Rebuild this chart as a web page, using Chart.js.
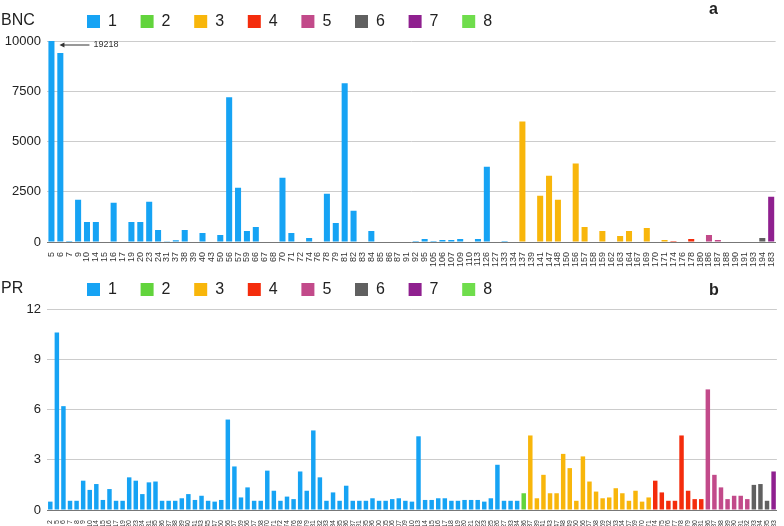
<!DOCTYPE html>
<html>
<head>
<meta charset="utf-8">
<script src="https://cdn.jsdelivr.net/npm/chart.js@4.4.1/dist/chart.umd.min.js"></script>
<style>
  html, body { margin: 0; padding: 0; background: #fff; }
  #wrap { position: relative; width: 784px; height: 526px; }
  .panel { position: absolute; left: 0; width: 784px; }
</style>
</head>
<body>
<div id="wrap">
  <div class="panel" style="top:0;height:268px"><canvas id="bnc"></canvas></div>
  <div class="panel" style="top:268px;height:258px"><canvas id="pr"></canvas></div>
</div>
<script>
// panel a: BNC per category
const bncLabels = [5, 6, 7, 9, 10, 14, 15, 16, 17, 19, 20, 23, 24, 31, 37, 38, 39, 40, 43, 50,
  56, 57, 59, 66, 67, 68, 70, 71, 72, 74, 76, 78, 79, 81, 82, 83, 84, 85, 86, 87,
  91, 92, 95, 105, 106, 107, 109, 110, 113, 126, 127, 133, 134, 137, 139, 141, 147, 148, 150, 156,
  157, 158, 159, 162, 163, 164, 167, 169, 170, 171, 174, 176, 178, 180, 186, 187, 188, 190, 191, 193,
  194, 183];
const bncValues = [19218, 9400, 50, 2100, 1000, 1000, 0, 1950, 0, 1000, 1000, 2000, 600, 40, 90, 600, 0, 450, 0, 350,
  7200, 2700, 550, 750, 0, 0, 3200, 450, 0, 200, 0, 2400, 950, 7900, 1550, 0, 550, 0, 0, 0,
  0, 50, 150, 50, 100, 100, 150, 0, 150, 3750, 0, 50, 0, 6000, 0, 2300, 3300, 2100, 0, 3900,
  750, 0, 550, 0, 300, 550, 0, 700, 0, 100, 50, 0, 150, 0, 350, 100, 0, 0, 0, 0,
  200, 2250];
const bncTicks = [0, 2500, 5000, 7500, 10000];

// panel b: PR per category
const prLabels = [2, 5, 6, 7, 8, 9, 10, 14, 15, 16, 17, 19, 20, 23, 24, 31, 35, 36, 37, 38,
  39, 40, 41, 43, 45, 47, 50, 56, 57, 59, 66, 67, 68, 70, 71, 72, 74, 76, 78, 79,
  81, 82, 83, 84, 85, 86, 87, 91, 95, 96, 100, 105, 106, 107, 109, 110, 113, 114, 115, 116,
  117, 118, 119, 120, 121, 122, 123, 125, 126, 127, 133, 134, 136, 137, 139, 141, 143, 147, 148, 149,
  150, 156, 157, 158, 159, 162, 163, 164, 167, 169, 170, 171, 174, 175, 176, 177, 178, 179, 180, 181,
  186, 187, 188, 189, 190, 191, 192, 193, 194, 195, 183];
const prValues = [0.5, 10.6, 6.2, 0.55, 0.55, 1.75, 1.2, 1.55, 0.6, 1.25, 0.55, 0.55, 1.95, 1.75, 0.95, 1.65, 1.7, 0.55, 0.55, 0.55,
  0.7, 0.95, 0.6, 0.85, 0.55, 0.5, 0.6, 5.4, 2.6, 0.75, 1.35, 0.55, 0.55, 2.35, 1.15, 0.55, 0.8, 0.65, 2.3, 1.15,
  4.75, 1.95, 0.55, 1.05, 0.55, 1.45, 0.55, 0.55, 0.55, 0.7, 0.55, 0.55, 0.65, 0.7, 0.55, 0.5, 4.4, 0.6, 0.6, 0.7,
  0.7, 0.55, 0.55, 0.6, 0.6, 0.6, 0.5, 0.7, 2.7, 0.55, 0.55, 0.55, 1.0, 4.45, 0.7, 2.1, 1.0, 1.0, 3.35, 2.5,
  0.55, 3.2, 1.7, 1.1, 0.7, 0.75, 1.3, 1.0, 0.55, 1.15, 0.5, 0.75, 1.75, 1.05, 0.55, 0.55, 4.45, 1.15, 0.65, 0.65,
  7.2, 2.1, 1.35, 0.65, 0.85, 0.85, 0.65, 1.5, 1.55, 0.55, 2.3];
const prTicks = [0, 3, 6, 9, 12];

const groupNames = ['1', '2', '3', '4', '5', '6', '7', '8'];
const groupColors = ['#16a3f4', '#62d43c', '#f8b60b', '#f42c0c', '#c24a8a', '#606060', '#8f208f', '#6fdd4c'];

// which group a category belongs to
function groupOf(label) {
  if (label === 136) return 1;
  if (label <= 134) return 0;
  if (label <= 171) return 2;
  if (label <= 181) return 3;
  if (label === 183) return 6;
  if (label <= 192) return 4;
  return 5;
}

Chart.defaults.font.family = '"Liberation Sans", Arial, Helvetica, sans-serif';
Chart.defaults.color = '#222';

// legend row, panel title and panel letter
const panelDecor = {
  id: 'panelDecor',
  afterDraw(chart, args, opts) {
    const ctx = chart.ctx;
    ctx.save();
    ctx.textBaseline = 'middle';
    ctx.fillStyle = '#222';
    ctx.font = '16px "Liberation Sans", Arial, sans-serif';
    ctx.textAlign = 'left';
    ctx.fillText(opts.title, 1, 21);
    chart.data.datasets.forEach((ds, i) => {
      const x = 87 + i * 53.6;
      ctx.fillStyle = ds.backgroundColor;
      ctx.fillRect(x, 15, 13, 13);
      ctx.fillStyle = '#222';
      ctx.fillText(ds.label, x + 21, 22);
    });
    ctx.font = 'bold 16px "Liberation Sans", Arial, sans-serif';
    ctx.fillText(opts.letter, 709, opts.letterY);
    if (opts.note) {
      const xs = chart.scales.x, ys = chart.scales.y;
      const x0 = xs.getPixelForValue(0) + 8;
      const y0 = ys.getPixelForValue(ys.max) + 4;
      ctx.strokeStyle = '#333';
      ctx.fillStyle = '#333';
      ctx.lineWidth = 1;
      ctx.beginPath();
      ctx.moveTo(x0 + 3, y0);
      ctx.lineTo(x0 + 30, y0);
      ctx.stroke();
      ctx.beginPath();
      ctx.moveTo(x0, y0);
      ctx.lineTo(x0 + 5, y0 - 2.5);
      ctx.lineTo(x0 + 5, y0 + 2.5);
      ctx.closePath();
      ctx.fill();
      ctx.font = '9px "Liberation Sans", Arial, sans-serif';
      ctx.fillText(opts.note, x0 + 34, y0);
    }
    ctx.restore();
  }
};

function makePanel(id, labels, values, ticks, cfg) {
  const datasets = groupNames.map((name, g) => ({
    label: name,
    data: values.map((v, i) => (groupOf(labels[i]) === g ? v : null)),
    backgroundColor: groupColors[g],
    grouped: false,
    barPercentage: cfg.barPct,
    categoryPercentage: 1
  }));
  return new Chart(document.getElementById(id), {
    type: 'bar',
    data: { labels: labels.map(String), datasets },
    plugins: [panelDecor],
    options: {
      responsive: true,
      maintainAspectRatio: false,
      animation: false,
      layout: { padding: { top: 41, right: 2, left: 0, bottom: 0 } },
      plugins: {
        legend: { display: false },
        tooltip: { enabled: false },
        panelDecor: { title: cfg.title, letter: cfg.letter, letterY: cfg.letterY, note: cfg.note }
      },
      scales: {
        x: {
          grid: { display: false },
          border: { color: '#777' },
          afterFit: (s) => { s.height = cfg.xHeight; },
          ticks: {
            autoSkip: false,
            minRotation: 90,
            maxRotation: 90,
            padding: 2,
            color: '#333',
            font: { size: cfg.xFont }
          }
        },
        y: {
          min: 0,
          max: ticks[ticks.length - 1],
          afterFit: (s) => { s.width = 47; },
          afterBuildTicks: (s) => { s.ticks = ticks.map((v) => ({ value: v })); },
          border: { display: false },
          grid: { color: '#cccccc', drawTicks: false },
          ticks: { padding: 6, color: '#222', font: { size: 13 }, callback: (v) => String(v) }
        }
      }
    }
  });
}

makePanel('bnc', bncLabels, bncValues, bncTicks,
  { title: 'BNC', letter: 'a', letterY: 10, note: '19218', barPct: 0.68, xFont: 9, xHeight: 26 });
makePanel('pr', prLabels, prValues, prTicks,
  { title: 'PR', letter: 'b', letterY: 23, note: null, barPct: 0.68, xFont: 7, xHeight: 16 });
</script>
</body>
</html>
